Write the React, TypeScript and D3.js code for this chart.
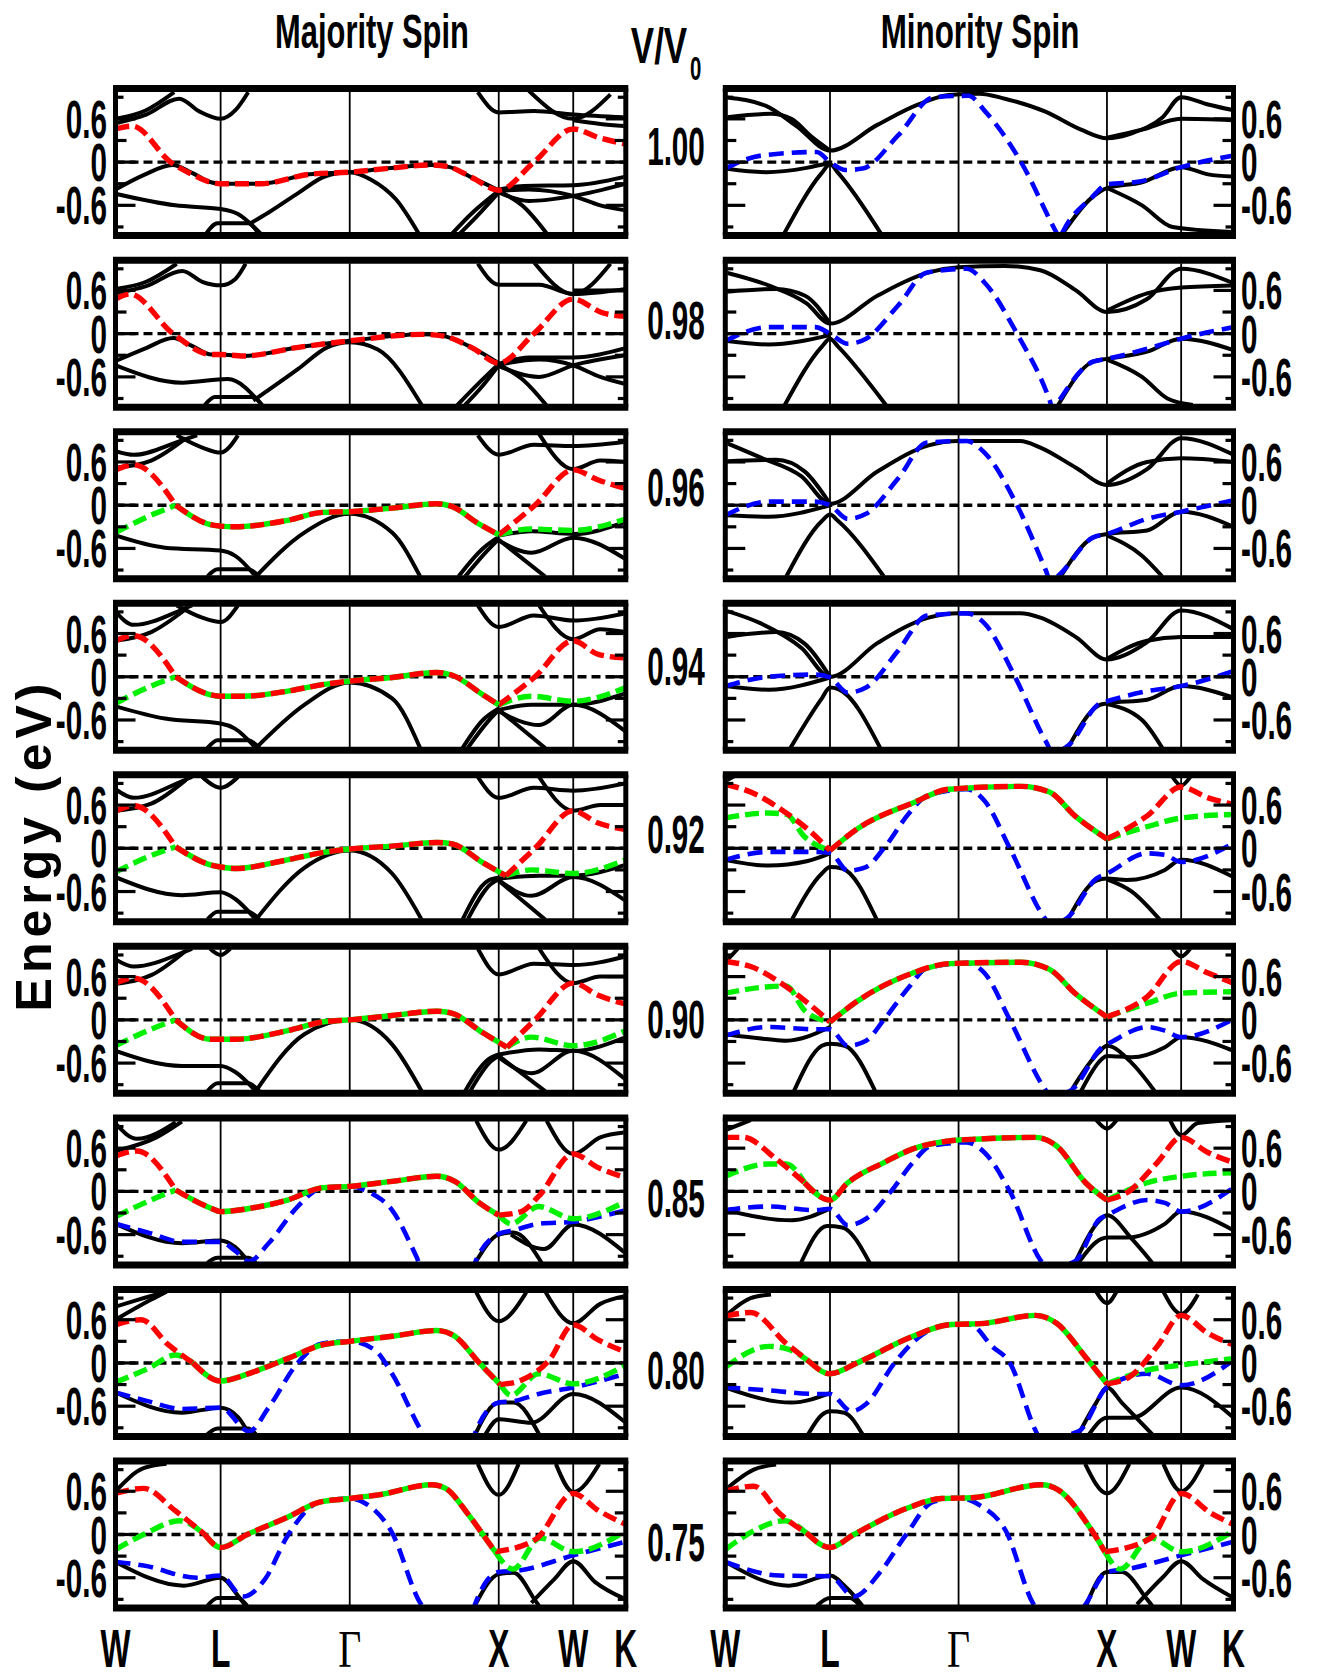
import React from "react";
import * as d3 from "d3";

type Pt = [number, number];
type Band = Pt[];

// high-symmetry points as fractions of the W-L-Γ-X-W-K path
const W0 = 0, L = 0.206, G = 0.459, X = 0.751, W1 = 0.897, K = 1;

const volumeLabels = ["1.00", "0.98", "0.96", "0.94", "0.92", "0.90", "0.85", "0.80", "0.75"];
const kPointLabels = ["W", "L", "Γ", "X", "W", "K"];
const kPointPositions = [W0, L, G, X, W1, K];
const energyTickValues = [0.6, 0, -0.6];
const energyTickLabels = ["0.6", "0", "-0.6"];
const energyMinorTicks = [-0.9, -0.6, -0.3, 0, 0.3, 0.6, 0.9];

/* ---------------- Majority spin ---------------- */
const maj100Black: Band[] = [
  [[0,0.54],[0.06,0.66],[0.125,0.88],[0.165,0.7],[L,0.6],[0.235,0.72],[0.26,0.97]],
  [[0,0.6],[0.06,0.72],[0.115,0.97]],
  [[0,-0.38],[0.055,-0.18],[0.112,-0.04],[0.15,-0.15],[0.187,-0.28],[L,-0.3],[0.284,-0.3],[0.38,-0.17],[G,-0.14],[0.53,-0.09],[0.62,-0.04],[0.655,-0.07],[0.7,-0.22],[X,-0.39]],
  [[0,-0.44],[0.117,-0.6],[L,-0.65],[0.24,-0.72],[0.284,-0.99]],
  [[0.178,-0.99],[0.2,-0.85],[0.26,-0.85],[0.28,-0.99]],
  [[0.262,-0.86],[0.3,-0.7],[0.36,-0.42],[0.41,-0.2],[G,-0.14],[0.5,-0.24],[0.55,-0.52],[0.594,-0.99]],
  [[0.66,-0.99],[0.7,-0.7],[X,-0.4]],
  [[0.675,-0.99],[0.715,-0.7],[X,-0.42]],
  [[X,-0.4],[0.8,-0.62],[0.845,-0.99]],
  [[X,-0.38],[0.8,-0.33],[W1,-0.32],[K,-0.2]],
  [[X,-0.4],[0.81,-0.38],[W1,-0.47],[0.95,-0.6],[K,-0.67]],
  [[X,-0.42],[0.81,-0.54],[W1,-0.47],[K,-0.3]],
  [[0.71,0.97],[X,0.69],[0.82,0.71],[W1,0.66],[K,0.62]],
  [[0.81,0.99],[W1,0.6],[0.97,0.94]],
  [[W1,0.58],[0.95,0.53],[K,0.5]],
];
const maj100Red: Band[] = [
  [[0,0.46],[0.033,0.5],[0.108,0.0],[0.15,-0.17],[0.187,-0.28],[L,-0.3],[0.284,-0.3],[0.38,-0.17],[G,-0.14],[0.53,-0.09],[0.62,-0.04],[0.655,-0.07],[0.7,-0.22],[X,-0.39],[0.82,0.0],[W1,0.46],[0.947,0.34],[K,0.25]],
];

const maj098Black: Band[] = [
  [[0,0.56],[0.06,0.66],[0.131,0.87],[0.17,0.72],[L,0.67],[0.235,0.76],[0.255,0.97]],
  [[0,0.62],[0.06,0.72],[0.12,0.97]],
  [[0,-0.38],[0.06,-0.2],[0.113,-0.06],[0.15,-0.17],[0.188,-0.29],[L,-0.29],[0.25,-0.31],[0.358,-0.19],[G,-0.1],[0.6,-0.01],[0.64,-0.03],[0.7,-0.2],[X,-0.41]],
  [[0,-0.44],[0.131,-0.68],[0.22,-0.63],[0.287,-0.99]],
  [[0.175,-0.99],[0.195,-0.88],[0.27,-0.88],[0.287,-0.99]],
  [[0.27,-0.93],[0.358,-0.49],[0.415,-0.19],[G,-0.12],[0.514,-0.22],[0.6,-0.99]],
  [[0.67,-0.99],[0.71,-0.7],[X,-0.42]],
  [[0.685,-0.99],[0.72,-0.72],[X,-0.44]],
  [[X,-0.43],[0.8,-0.65],[0.844,-0.99]],
  [[X,-0.42],[0.81,-0.33],[W1,-0.33],[K,-0.2]],
  [[X,-0.45],[0.83,-0.6],[W1,-0.44],[K,-0.3]],
  [[X,-0.43],[0.83,-0.36],[W1,-0.44],[0.95,-0.6],[K,-0.7]],
  [[0.71,0.97],[X,0.68],[0.83,0.68],[W1,0.55],[K,0.62]],
  [[0.82,0.99],[W1,0.55],[0.97,0.97]],
  [[W1,0.6],[K,0.6]],
];
const maj098Red: Band[] = [
  [[0,0.48],[0.028,0.55],[0.113,0.0],[0.188,-0.29],[L,-0.29],[0.25,-0.31],[0.358,-0.19],[G,-0.1],[0.6,-0.01],[0.64,-0.03],[0.7,-0.2],[X,-0.41],[0.82,0.0],[W1,0.48],[0.954,0.29],[K,0.24]],
];

const maj096Black: Band[] = [
  [[0,0.75],[0.036,0.7],[0.13,0.9],[0.16,0.97]],
  [[0,0.52],[0.07,0.62],[0.138,0.93]],
  [[0.12,0.97],[0.17,0.8],[L,0.73],[0.24,0.97]],
  [[0,-0.42],[0.097,-0.59],[L,-0.63],[0.234,-0.7],[0.275,-0.99]],
  [[0.18,-0.99],[0.2,-0.89],[0.26,-0.89],[0.282,-0.99]],
  [[0.275,-0.99],[0.37,-0.38],[G,-0.12],[0.542,-0.38],[0.597,-0.99]],
  [[0.672,-0.99],[0.72,-0.6],[X,-0.44]],
  [[0.685,-0.99],[0.73,-0.62],[X,-0.47]],
  [[X,-0.42],[0.815,-0.36],[W1,-0.4],[K,-0.23]],
  [[X,-0.49],[0.815,-0.66],[W1,-0.45],[K,-0.75]],
  [[X,-0.48],[0.842,-0.99]],
  [[0.71,0.97],[X,0.7],[0.82,0.84],[W1,0.82],[K,0.88]],
  [[0.83,0.99],[W1,0.5],[0.95,0.62],[K,0.6]],
];
const maj096Red: Band[] = [
  [[0,0.49],[0.036,0.56],[0.118,0]],
  [[X,-0.41],[0.822,0],[W1,0.49],[0.946,0.35],[K,0.23]],
];
const maj096Green: Band[] = [
  [[0,-0.38],[0.063,-0.16],[0.118,0]],
  [[X,-0.41],[0.815,-0.33],[W1,-0.35],[K,-0.19]],
];
const maj096RedGreen: Band[] = [
  [[0.118,0],[0.186,-0.27],[L,-0.29],[0.234,-0.3],[0.337,-0.21],[0.405,-0.1],[G,-0.09],[0.542,-0.04],[0.63,0.02],[0.66,-0.02],[0.71,-0.25],[X,-0.41]],
];

const maj094Black: Band[] = [
  [[0,0.9],[0.036,0.72],[0.13,0.93],[0.15,0.99]],
  [[0,0.5],[0.07,0.62],[0.138,0.94]],
  [[0.12,0.99],[0.17,0.82],[L,0.76],[0.24,0.99]],
  [[0,-0.41],[0.097,-0.58],[L,-0.65],[0.234,-0.72],[0.275,-0.99]],
  [[0.18,-0.99],[0.2,-0.88],[0.26,-0.88],[0.282,-0.99]],
  [[0.275,-0.99],[0.37,-0.39],[G,-0.08],[0.542,-0.3],[0.597,-0.99]],
  [[0.68,-0.99],[0.72,-0.6],[X,-0.44]],
  [[0.69,-0.99],[0.73,-0.62],[X,-0.46]],
  [[X,-0.46],[0.815,-0.39],[W1,-0.39],[K,-0.23]],
  [[X,-0.48],[0.83,-0.67],[W1,-0.39],[K,-0.76]],
  [[X,-0.46],[0.842,-0.99]],
  [[0.71,0.99],[X,0.69],[0.82,0.85],[W1,0.78],[K,0.88]],
  [[0.83,0.99],[W1,0.52],[0.95,0.66],[K,0.62]],
];
const maj094Red: Band[] = [
  [[0,0.5],[0.036,0.57],[0.118,0]],
  [[X,-0.39],[0.822,0],[W1,0.5],[0.946,0.31],[K,0.26]],
];
const maj094Green: Band[] = [
  [[0,-0.37],[0.063,-0.15],[0.118,0]],
  [[X,-0.39],[0.815,-0.27],[W1,-0.34],[K,-0.15]],
];
const maj094RedGreen: Band[] = [
  [[0.118,0],[0.186,-0.25],[L,-0.27],[0.25,-0.27],[0.337,-0.2],[0.405,-0.11],[G,-0.06],[0.542,-0.01],[0.63,0.06],[0.66,0.02],[0.72,-0.25],[X,-0.39]],
];

const maj092Black: Band[] = [
  [[0,0.82],[0.036,0.7],[0.13,0.93],[0.15,0.99]],
  [[0,0.52],[0.07,0.62],[0.138,0.95]],
  [[0.17,0.99],[L,0.84],[0.24,0.99]],
  [[0,-0.4],[0.13,-0.65],[L,-0.61],[0.234,-0.7],[0.275,-0.99]],
  [[0.18,-0.99],[0.2,-0.88],[0.26,-0.88],[0.282,-0.99]],
  [[0.275,-0.99],[0.37,-0.27],[G,-0.03],[0.542,-0.35],[0.6,-0.99]],
  [[0.68,-0.99],[0.73,-0.45],[X,-0.41]],
  [[0.69,-0.99],[0.735,-0.5],[X,-0.43]],
  [[X,-0.42],[0.83,-0.38],[W1,-0.38],[K,-0.23]],
  [[X,-0.44],[0.815,-0.66],[W1,-0.4],[K,-0.73]],
  [[X,-0.45],[0.842,-0.99]],
  [[0.71,0.99],[X,0.7],[0.82,0.84],[W1,0.8],[K,0.9]],
  [[0.83,0.99],[W1,0.52],[0.95,0.6],[K,0.6]],
];
const maj092Red: Band[] = [
  [[0,0.52],[0.036,0.59],[0.118,0.02]],
  [[0.765,-0.38],[0.822,0],[W1,0.52],[0.946,0.35],[K,0.26]],
];
const maj092Green: Band[] = [
  [[0,-0.33],[0.063,-0.12],[0.118,0.02]],
  [[0.765,-0.38],[0.815,-0.3],[W1,-0.35],[K,-0.16]],
];
const maj092RedGreen: Band[] = [
  [[0.118,0.02],[0.186,-0.23],[L,-0.26],[0.234,-0.28],[0.337,-0.16],[0.405,-0.06],[G,-0.01],[0.542,0.03],[0.63,0.08],[0.66,0.06],[0.72,-0.2],[0.765,-0.38]],
];

const maj090Black: Band[] = [
  [[0,0.84],[0.036,0.74],[0.13,0.93],[0.15,0.99]],
  [[0,0.5],[0.07,0.62],[0.138,0.96]],
  [[0.185,0.99],[L,0.9],[0.225,0.99]],
  [[0,-0.43],[0.13,-0.64],[L,-0.64],[0.234,-0.72],[0.275,-0.99]],
  [[0.18,-0.99],[0.2,-0.88],[0.26,-0.88],[0.282,-0.99]],
  [[0.275,-0.99],[0.37,-0.2],[G,0],[0.542,-0.34],[0.6,-0.99]],
  [[0.685,-0.99],[0.73,-0.55],[X,-0.48]],
  [[0.695,-0.99],[0.735,-0.58],[X,-0.5]],
  [[X,-0.48],[0.83,-0.41],[W1,-0.43],[K,-0.24]],
  [[X,-0.52],[0.815,-0.74],[W1,-0.43],[K,-0.83]],
  [[X,-0.5],[0.842,-0.99]],
  [[0.71,0.99],[X,0.63],[0.82,0.78],[W1,0.76],[K,0.88]],
  [[0.83,0.99],[W1,0.51],[0.95,0.6],[K,0.6]],
];
const maj090Red: Band[] = [
  [[0,0.51],[0.036,0.58],[0.118,0]],
  [[0.767,-0.38],[0.822,0],[W1,0.51],[0.946,0.34],[K,0.22]],
];
const maj090Green: Band[] = [
  [[0,-0.36],[0.063,-0.15],[0.118,0]],
  [[0.767,-0.38],[0.815,-0.24],[W1,-0.36],[K,-0.15]],
];
const maj090RedGreen: Band[] = [
  [[0.118,0],[0.186,-0.27],[L,-0.27],[0.234,-0.27],[0.337,-0.15],[0.405,-0.03],[G,0],[0.542,0.06],[0.63,0.12],[0.66,0.09],[0.72,-0.18],[0.767,-0.38]],
];

const maj085Black: Band[] = [
  [[0,0.94],[0.042,0.73],[0.118,0.96]],
  [[0,0.56],[0.08,0.75],[0.13,0.97]],
  [[0,-0.45],[0.13,-0.72],[L,-0.68],[0.234,-0.77],[0.262,-0.99]],
  [[0.18,-0.99],[0.2,-0.92],[0.26,-0.92],[0.275,-0.99]],
  [[0.705,-0.99],[X,-0.6],[0.78,-0.57],[0.835,-0.99]],
  [[0.775,-0.6],[0.84,-0.8],[W1,-0.46],[K,-0.86]],
  [[0.707,0.98],[X,0.58],[0.805,0.98]],
  [[0.845,0.98],[W1,0.52],[0.95,0.75],[K,0.82]],
];
const maj085Red: Band[] = [
  [[0,0.49],[0.042,0.56],[0.118,0.02]],
  [[X,-0.33],[0.795,-0.28],[0.829,-0.07],[W1,0.52],[0.946,0.33],[K,0.19]],
];
const maj085Green: Band[] = [
  [[0,-0.35],[0.063,-0.14],[0.118,0.02]],
  [[X,-0.33],[0.775,-0.45],[0.829,-0.21],[W1,-0.38],[K,-0.14]],
];
const maj085RedGreen: Band[] = [
  [[0.118,0.02],[0.186,-0.23],[L,-0.28],[0.268,-0.23],[0.337,-0.12],[0.405,0.05],[G,0.07],[0.542,0.14],[0.63,0.21],[0.665,0.14],[0.713,-0.16],[X,-0.33]],
];
const maj085Blue: Band[] = [
  [[0,-0.45],[0.063,-0.57],[0.131,-0.7],[L,-0.7],[0.234,-0.82],[0.262,-0.97],[0.3,-0.72],[0.357,-0.21],[0.405,0.05],[G,0.07],[0.5,-0.02],[0.542,-0.26],[0.59,-0.91],[0.6,-1.06],[0.7,-1.06],[0.706,-0.96],[X,-0.59],[0.78,-0.54],[0.829,-0.45],[W1,-0.42],[K,-0.26]],
];

const maj080Black: Band[] = [
  [[0,0.78],[0.07,0.93],[0.1,0.99]],
  [[0,0.6],[0.07,0.88],[0.1,0.99]],
  [[0,-0.41],[0.13,-0.69],[L,-0.62],[0.24,-0.75],[0.262,-0.99]],
  [[0.18,-0.99],[0.2,-0.91],[0.26,-0.91],[0.275,-0.99]],
  [[0.705,-0.99],[X,-0.55],[0.78,-0.55],[0.83,-0.99]],
  [[0.725,-0.99],[X,-0.78],[0.815,-0.83],[W1,-0.43],[K,-0.83]],
  [[0.707,0.98],[X,0.58],[0.805,0.98]],
  [[0.843,0.98],[W1,0.55],[0.95,0.82],[K,0.93]],
];
const maj080Red: Band[] = [
  [[0,0.53],[0.05,0.6],[0.104,0.25],[0.152,0]],
  [[0.754,-0.3],[0.795,-0.24],[0.85,0.04],[W1,0.53],[0.946,0.32],[K,0.15]],
];
const maj080Green: Band[] = [
  [[0,-0.27],[0.063,-0.08],[0.118,0.11],[0.152,0]],
  [[0.754,-0.3],[0.775,-0.45],[0.829,-0.15],[W1,-0.29],[K,-0.03]],
];
const maj080RedGreen: Band[] = [
  [[0.152,0],[L,-0.25],[0.268,-0.13],[0.337,0.06],[0.405,0.25],[G,0.3],[0.542,0.37],[0.63,0.45],[0.665,0.37],[0.713,0],[0.754,-0.3]],
];
const maj080Blue: Band[] = [
  [[0,-0.41],[0.063,-0.53],[0.131,-0.64],[L,-0.62],[0.262,-0.95],[0.3,-0.62],[0.357,0],[0.405,0.27],[G,0.3],[0.508,0.18],[0.542,-0.15],[0.6,-0.95],[0.61,-1.06],[0.7,-1.06],[0.706,-0.95],[X,-0.55],[0.78,-0.53],[0.829,-0.43],[W1,-0.34],[K,-0.15]],
];

const maj075Black: Band[] = [
  [[0,0.6],[0.055,0.92],[0.1,0.98]],
  [[0,-0.38],[0.134,-0.71],[L,-0.6],[0.24,-0.85],[0.255,-0.99]],
  [[0.18,-0.99],[0.2,-0.88],[0.24,-0.88],[0.258,-0.99]],
  [[0.704,-0.99],[X,-0.55],[0.78,-0.53],[0.823,-0.92],[0.83,-0.99]],
  [[0.815,-0.95],[0.86,-0.62],[W1,-0.37],[0.94,-0.66],[K,-0.9]],
  [[0.71,0.98],[X,0.55],[0.79,0.98]],
  [[0.863,0.98],[W1,0.59],[0.948,0.98]],
];
const maj075Red: Band[] = [
  [[0,0.57],[0.055,0.64],[0.117,0.33],[0.175,0]],
  [[0.744,-0.24],[0.823,-0.07],[W1,0.57],[0.947,0.33],[K,0.14]],
];
const maj075Green: Band[] = [
  [[0,-0.21],[0.055,0],[0.125,0.19],[0.175,0]],
  [[0.744,-0.24],[0.779,-0.48],[0.832,-0.05],[W1,-0.24],[K,0.05]],
];
const maj075RedGreen: Band[] = [
  [[0.175,0],[L,-0.18],[0.258,0],[0.337,0.24],[0.4,0.45],[G,0.5],[0.515,0.55],[0.62,0.69],[0.647,0.64],[0.69,0.29],[0.725,-0.05],[0.744,-0.24]],
];
const maj075Blue: Band[] = [
  [[0,-0.38],[0.055,-0.43],[0.16,-0.6],[L,-0.57],[0.25,-0.86],[0.293,-0.62],[0.337,-0.02],[0.4,0.45],[G,0.5],[0.497,0.4],[0.54,0.05],[0.6,-0.98],[0.61,-1.06],[0.7,-1.06],[0.704,-0.98],[X,-0.52],[0.79,-0.5],[W1,-0.29],[K,-0.1]],
];

/* ---------------- Minority spin ---------------- */
const min100Black: Band[] = [
  [[0,0.9],[0.08,0.78],[0.14,0.5],[L,0.16],[0.3,0.52],[0.38,0.8],[0.44,0.93],[0.5,0.95],[0.55,0.88],[0.63,0.7],[0.7,0.45],[X,0.33],[0.8,0.4],[0.86,0.62],[W1,0.9],[0.95,0.8],[K,0.72]],
  [[0,0.62],[0.09,0.67],[0.13,0.6],[0.17,0.35],[L,0.16]],
  [[X,0.34],[0.82,0.45],[W1,0.6],[K,0.58]],
  [[0,-0.09],[0.08,-0.14],[0.16,-0.08],[L,-0.01]],
  [[0.116,-0.99],[0.19,-0.15],[L,-0.03],[0.222,-0.15],[0.306,-0.99]],
  [[0.664,-0.99],[0.72,-0.5],[X,-0.36],[0.82,-0.28],[W1,-0.07],[0.95,-0.17],[K,-0.2]],
  [[X,-0.36],[0.82,-0.6],[0.88,-0.9],[K,-0.97]],
];
const min100Blue: Band[] = [
  [[0,-0.09],[0.07,0.09],[0.18,0.14],[L,0.0],[0.237,-0.11],[0.27,-0.09],[0.34,0.37],[0.41,0.9],[0.478,0.92],[0.513,0.69],[0.582,0],[0.651,-0.97],[0.658,-1.06],[0.664,-0.97],[0.72,-0.5],[X,-0.31],[0.815,-0.27],[W1,-0.07],[K,0.09]],
];

const min098Black: Band[] = [
  [[0,0.85],[0.085,0.67],[0.16,0.42],[L,0.14],[0.3,0.53],[0.4,0.85],[G,0.92],[0.55,0.94],[0.62,0.88],[0.69,0.6],[X,0.3],[0.83,0.48],[W1,0.9],[K,0.7]],
  [[0,0.58],[0.1,0.62],[0.156,0.53],[L,0.14]],
  [[X,0.32],[0.83,0.56],[W1,0.64],[K,0.67]],
  [[0,-0.1],[0.085,-0.15],[L,-0.02]],
  [[0.117,-0.99],[0.19,-0.18],[L,-0.07],[0.222,-0.18],[0.316,-0.99]],
  [[0.655,-0.99],[0.723,-0.39],[X,-0.35],[0.83,-0.25],[W1,-0.07],[K,-0.23]],
  [[X,-0.36],[0.82,-0.6],[0.87,-0.9],[0.92,-0.99]],
];
const min098Blue: Band[] = [
  [[0,-0.1],[0.085,0.09],[0.177,0.09],[L,0],[0.241,-0.14],[0.277,-0.07],[0.34,0.39],[0.397,0.85],[0.475,0.9],[0.51,0.71],[0.574,0],[0.638,-0.92],[0.645,-1.06],[0.655,-0.95],[0.723,-0.39],[X,-0.35],[0.83,-0.21],[W1,-0.07],[K,0.09]],
];

const min096Black: Band[] = [
  [[0,0.87],[0.07,0.66],[0.15,0.4],[L,0.02],[0.3,0.47],[0.4,0.83],[G,0.89],[0.58,0.89],[0.62,0.8],[0.69,0.52],[X,0.28],[0.83,0.5],[W1,0.93],[K,0.7]],
  [[0,0.61],[0.1,0.63],[0.156,0.47],[L,0.02]],
  [[X,0.3],[0.83,0.6],[W1,0.65],[K,0.6]],
  [[0,-0.14],[0.085,-0.16],[L,0]],
  [[0.12,-0.99],[0.19,-0.22],[L,-0.13],[0.222,-0.22],[0.312,-0.99]],
  [[0.66,-0.99],[0.723,-0.45],[X,-0.4],[0.83,-0.35],[W1,-0.09],[K,-0.3]],
  [[X,-0.42],[0.82,-0.7],[0.86,-0.99]],
];
const min096Blue: Band[] = [
  [[0,-0.14],[0.085,0.05],[0.177,0.05],[L,0],[0.241,-0.19],[0.277,-0.12],[0.34,0.37],[0.397,0.87],[0.475,0.89],[0.51,0.73],[0.574,0],[0.631,-0.91],[0.64,-1.06],[0.655,-0.98],[0.723,-0.45],[X,-0.4],[0.83,-0.19],[W1,-0.09],[K,0.07]],
];

const min094Black: Band[] = [
  [[0,0.92],[0.07,0.74],[0.15,0.4],[L,0],[0.3,0.47],[0.4,0.82],[G,0.88],[0.58,0.88],[0.62,0.82],[0.69,0.55],[X,0.24],[0.83,0.48],[W1,0.92],[K,0.66]],
  [[0,0.55],[0.1,0.62],[0.156,0.46],[L,0]],
  [[X,0.25],[0.83,0.5],[W1,0.55],[K,0.55]],
  [[0,-0.13],[0.085,-0.18],[L,-0.01]],
  [[0.128,-0.99],[0.19,-0.3],[L,-0.15],[0.222,-0.17],[0.305,-0.99]],
  [[0.674,-0.99],[0.737,-0.39],[X,-0.37],[0.83,-0.32],[W1,-0.13],[K,-0.29]],
  [[X,-0.38],[0.82,-0.6],[0.86,-0.99]],
];
const min094Blue: Band[] = [
  [[0,-0.13],[0.085,0],[0.177,0.03],[L,-0.01],[0.241,-0.22],[0.277,-0.15],[0.34,0.36],[0.397,0.85],[0.475,0.88],[0.51,0.74],[0.57,0],[0.631,-0.9],[0.645,-1.06],[0.674,-0.96],[0.737,-0.37],[X,-0.34],[0.83,-0.2],[W1,-0.13],[K,0.08]],
];

const min092Black: Band[] = [
  [[0,0.93],[0.03,1.05]],
  [[0,-0.16],[0.085,-0.24],[0.16,-0.18],[L,-0.07]],
  [[0.131,-0.99],[0.19,-0.35],[L,-0.26],[0.23,-0.28],[0.298,-0.99]],
  [[0.674,-0.99],[0.73,-0.45],[X,-0.42],[0.79,-0.44],[0.865,-0.3],[W1,-0.16],[K,-0.4]],
  [[X,-0.43],[0.8,-0.6],[0.855,-0.99]],
  [[0.88,0.99],[W1,0.87],[0.915,0.99]],
];
const min092Red: Band[] = [
  [[0,0.89],[0.05,0.78],[0.12,0.49],[0.163,0.26],[L,-0.03]],
  [[X,0.13],[0.83,0.45],[W1,0.85],[0.95,0.7],[K,0.61]],
];
const min092Green: Band[] = [
  [[0,0.42],[0.085,0.49],[0.12,0.47],[0.156,0.16],[L,-0.03]],
  [[X,0.13],[0.83,0.3],[W1,0.42],[K,0.47]],
];
const min092RedGreen: Band[] = [
  [[L,-0.03],[0.262,0.28],[0.369,0.63],[0.44,0.82],[0.582,0.86],[0.638,0.78],[0.688,0.45],[X,0.13]],
];
const min092Blue: Band[] = [
  [[0,-0.16],[0.085,-0.05],[0.177,-0.05],[L,-0.06],[0.241,-0.31],[0.277,-0.26],[0.312,0],[0.362,0.49],[0.397,0.73],[0.475,0.82],[0.51,0.66],[0.56,0],[0.631,-0.99],[0.64,-1.06],[0.674,-0.96],[0.73,-0.42],[X,-0.35],[0.83,-0.07],[0.865,-0.09],[W1,-0.19],[K,0.07]],
];

const min090Black: Band[] = [
  [[0,0.8],[0.025,0.99]],
  [[0,-0.2],[0.085,-0.27],[0.12,-0.29],[L,-0.1]],
  [[0.135,-0.99],[0.19,-0.36],[L,-0.33],[0.235,-0.36],[0.295,-0.99]],
  [[0.68,-0.99],[0.735,-0.45],[X,-0.36],[0.8,-0.6],[0.845,-0.99]],
  [[0.7,-0.99],[0.74,-0.55],[X,-0.5],[0.8,-0.52],[0.865,-0.38],[W1,-0.24],[K,-0.43]],
  [[0.88,0.99],[W1,0.88],[0.915,0.99]],
];
const min090Red: Band[] = [
  [[0,0.81],[0.05,0.74],[0.12,0.46],[0.163,0.23],[L,-0.03]],
  [[X,0.04],[0.83,0.32],[W1,0.81],[0.95,0.65],[K,0.51]],
];
const min090Green: Band[] = [
  [[0,0.37],[0.085,0.46],[0.12,0.47],[0.156,0.13],[L,-0.03]],
  [[X,0.04],[0.83,0.23],[W1,0.37],[K,0.39]],
];
const min090RedGreen: Band[] = [
  [[L,-0.03],[0.262,0.27],[0.369,0.65],[0.44,0.78],[0.582,0.8],[0.638,0.7],[0.688,0.37],[X,0.04]],
];
const min090Blue: Band[] = [
  [[0,-0.22],[0.085,-0.1],[0.177,-0.13],[L,-0.13],[0.241,-0.36],[0.277,-0.29],[0.312,0],[0.362,0.46],[0.397,0.72],[0.475,0.79],[0.51,0.65],[0.56,0],[0.628,-0.95],[0.64,-1.06],[0.68,-0.98],[0.745,-0.36],[X,-0.34],[0.83,-0.1],[0.865,-0.15],[W1,-0.24],[K,0.01]],
];

const min085Black: Band[] = [
  [[0,0.85],[0.05,0.99]],
  [[0,-0.26],[0.13,-0.4],[L,-0.24]],
  [[0.149,-0.99],[0.2,-0.48],[0.23,-0.5],[0.284,-0.99]],
  [[0.688,-0.99],[0.737,-0.4],[X,-0.33],[0.8,-0.66],[0.84,-0.99]],
  [[0.695,-0.99],[0.74,-0.66],[X,-0.64],[0.79,-0.64],[0.865,-0.45],[W1,-0.28],[K,-0.54]],
  [[0.73,0.99],[X,0.87],[0.77,0.99]],
  [[0.875,0.99],[W1,0.78],[0.93,0.95],[K,0.99]],
];
const min085Red: Band[] = [
  [[0,0.75],[0.035,0.75],[0.1,0.45],[0.156,0.12]],
  [[X,-0.12],[0.794,0],[0.85,0.4],[W1,0.75],[0.95,0.54],[K,0.4]],
];
const min085Green: Band[] = [
  [[0,0.21],[0.085,0.38],[0.12,0.38],[0.156,0.12]],
  [[X,-0.12],[0.83,0.12],[W1,0.21],[K,0.26]],
];
const min085RedGreen: Band[] = [
  [[0.156,0.12],[L,-0.12],[0.241,0.12],[0.312,0.4],[0.369,0.59],[0.44,0.7],[0.51,0.73],[0.61,0.75],[0.652,0.63],[0.709,0.12],[X,-0.12]],
];
const min085Blue: Band[] = [
  [[0,-0.26],[0.085,-0.21],[0.177,-0.26],[L,-0.24],[0.241,-0.47],[0.277,-0.38],[0.326,0],[0.369,0.4],[0.404,0.63],[0.475,0.68],[0.51,0.54],[0.56,0],[0.624,-0.99],[0.635,-1.06],[0.688,-0.97],[0.737,-0.38],[X,-0.33],[0.83,-0.12],[0.865,-0.16],[W1,-0.28],[K,0.05]],
];

const min080Black: Band[] = [
  [[0,0.65],[0.05,0.9],[0.09,0.95]],
  [[0,-0.34],[0.13,-0.55],[L,-0.42]],
  [[0.163,-0.99],[0.19,-0.72],[L,-0.67],[0.234,-0.69],[0.27,-0.99]],
  [[0.695,-0.99],[0.73,-0.55],[X,-0.34],[0.78,-0.55],[0.84,-0.99]],
  [[0.716,-0.99],[X,-0.76],[0.8,-0.76],[W1,-0.34],[K,-0.76]],
  [[0.73,0.99],[X,0.83],[0.77,0.99]],
  [[0.862,0.99],[W1,0.68],[0.93,0.95]],
];
const min080Red: Band[] = [
  [[0,0.65],[0.05,0.7],[0.12,0.27],[0.165,0.02]],
  [[X,-0.29],[0.794,-0.2],[0.85,0.23],[W1,0.66],[0.95,0.41],[K,0.25]],
];
const min080Green: Band[] = [
  [[0,-0.06],[0.085,0.23],[0.12,0.2],[0.165,0.02]],
  [[X,-0.29],[0.83,-0.1],[W1,-0.03],[K,0.06]],
];
const min080RedGreen: Band[] = [
  [[0.165,0.02],[L,-0.15],[0.262,0.01],[0.369,0.37],[0.44,0.53],[0.51,0.55],[0.61,0.66],[0.652,0.55],[0.709,0.08],[X,-0.29]],
];
const min080Blue: Band[] = [
  [[0,-0.34],[0.085,-0.38],[0.177,-0.43],[L,-0.43],[0.248,-0.67],[0.277,-0.57],[0.333,0],[0.383,0.37],[0.44,0.53],[0.482,0.53],[0.525,0.23],[0.56,0],[0.61,-0.93],[0.62,-1.06],[0.695,-0.95],[X,-0.34],[0.83,-0.15],[W1,-0.31],[K,0.04]],
];

const min075Black: Band[] = [
  [[0,0.62],[0.056,0.9],[0.1,0.97]],
  [[0,-0.38],[0.125,-0.71],[L,-0.57],[0.24,-0.75],[0.27,-0.99]],
  [[0.18,-0.99],[L,-0.88],[0.245,-0.88],[0.265,-0.99]],
  [[0.71,-0.99],[X,-0.52],[0.78,-0.52],[0.83,-0.9],[0.84,-0.99]],
  [[0.81,-0.97],[0.86,-0.6],[W1,-0.37],[0.94,-0.62],[K,-0.88]],
  [[0.708,0.98],[X,0.57],[0.795,0.98]],
  [[0.862,0.98],[W1,0.6],[0.94,0.98]],
];
const min075Red: Band[] = [
  [[0,0.6],[0.056,0.67],[0.107,0.29],[0.16,0.02]],
  [[0.747,-0.24],[0.837,-0.05],[W1,0.57],[0.957,0.29],[K,0.14]],
];
const min075Green: Band[] = [
  [[0,-0.21],[0.056,0.05],[0.116,0.19],[0.16,0.02]],
  [[0.747,-0.24],[0.777,-0.48],[0.837,-0.05],[W1,-0.24],[K,0.05]],
];
const min075RedGreen: Band[] = [
  [[0.16,0.02],[L,-0.18],[0.253,0],[0.356,0.36],[0.425,0.5],[0.485,0.51],[0.622,0.69],[0.655,0.62],[0.717,0.1],[0.747,-0.24]],
];
const min075Blue: Band[] = [
  [[0,-0.38],[0.107,-0.57],[L,-0.58],[0.253,-0.86],[0.305,-0.52],[0.356,0],[0.408,0.45],[0.46,0.51],[0.502,0.4],[0.552,0.05],[0.605,-0.95],[0.615,-1.06],[0.7,-1.06],[0.708,-0.98],[X,-0.52],[0.79,-0.48],[W1,-0.29],[K,-0.1]],
];

type PanelData = { black: Band[]; red: Band[]; green: Band[]; redGreen: Band[]; blue: Band[] };
const none: Band[] = [];

const majorityPanels: PanelData[] = [
  { black: maj100Black, red: maj100Red, green: none, redGreen: none, blue: none },
  { black: maj098Black, red: maj098Red, green: none, redGreen: none, blue: none },
  { black: maj096Black, red: maj096Red, green: maj096Green, redGreen: maj096RedGreen, blue: none },
  { black: maj094Black, red: maj094Red, green: maj094Green, redGreen: maj094RedGreen, blue: none },
  { black: maj092Black, red: maj092Red, green: maj092Green, redGreen: maj092RedGreen, blue: none },
  { black: maj090Black, red: maj090Red, green: maj090Green, redGreen: maj090RedGreen, blue: none },
  { black: maj085Black, red: maj085Red, green: maj085Green, redGreen: maj085RedGreen, blue: maj085Blue },
  { black: maj080Black, red: maj080Red, green: maj080Green, redGreen: maj080RedGreen, blue: maj080Blue },
  { black: maj075Black, red: maj075Red, green: maj075Green, redGreen: maj075RedGreen, blue: maj075Blue },
];
const minorityPanels: PanelData[] = [
  { black: min100Black, red: none, green: none, redGreen: none, blue: min100Blue },
  { black: min098Black, red: none, green: none, redGreen: none, blue: min098Blue },
  { black: min096Black, red: none, green: none, redGreen: none, blue: min096Blue },
  { black: min094Black, red: none, green: none, redGreen: none, blue: min094Blue },
  { black: min092Black, red: min092Red, green: min092Green, redGreen: min092RedGreen, blue: min092Blue },
  { black: min090Black, red: min090Red, green: min090Green, redGreen: min090RedGreen, blue: min090Blue },
  { black: min085Black, red: min085Red, green: min085Green, redGreen: min085RedGreen, blue: min085Blue },
  { black: min080Black, red: min080Red, green: min080Green, redGreen: min080RedGreen, blue: min080Blue },
  { black: min075Black, red: min075Red, green: min075Green, redGreen: min075RedGreen, blue: min075Blue },
];

/* ---------------- layout ---------------- */
const E_MAX = 1.02;
const LEFT_X: [number, number] = [115.5, 625.8];
const RIGHT_X: [number, number] = [725.3, 1233.5];
const TOP0 = 88.6;
const ROW_STEP = 171.55;
const PANEL_H = 147;
const VOL_LABEL_DY = [-16, -14, -18, -11, -14, -1, 7, 7, 7];
const SANS = "'Liberation Sans', Arial, Helvetica, sans-serif";
const SERIF = "'Liberation Serif', 'Times New Roman', serif";
const RED = "#ff0000", GREEN = "#00f000", BLUE = "#0000ff";

function STxt(props: { x: number; y: number; sx: number; sy?: number; size: number; anchor?: string; family?: string; weight?: string | number; children: React.ReactNode; ls?: number; rotate?: number }) {
  const { x, y, sx, sy = 1, size, anchor = "middle", family = SANS, weight = "bold", children, ls, rotate } = props;
  return (
    <text
      transform={`translate(${x},${y})${rotate ? ` rotate(${rotate})` : ""} scale(${sx},${sy})`}
      textAnchor={anchor}
      fontSize={size}
      fontFamily={family}
      fontWeight={weight as any}
      letterSpacing={ls}
      fill="#000"
    >
      {children}
    </text>
  );
}

function Panel({ xr, top, data, id }: { xr: [number, number]; top: number; data: PanelData; id: string }) {
  const [x0, x1] = xr;
  const xs = d3.scaleLinear().domain([0, 1]).range([x0, x1]);
  const ys = d3.scaleLinear().domain([-E_MAX, E_MAX]).range([top + PANEL_H, top]);
  const line = d3.line<Pt>().x((d) => xs(d[0])).y((d) => ys(d[1])).curve(d3.curveMonotoneX);
  const tickLen = (v: number) => (Math.abs(v) > 0.85 ? 8 : Math.abs(Math.abs(v) - 0.3) < 0.01 ? 11 : 20);
  const y0 = top, y1 = top + PANEL_H;
  return (
    <g>
      <defs>
        <clipPath id={id}>
          <rect x={x0 + 2} y={top + 3} width={x1 - x0 - 4} height={PANEL_H - 6} />
        </clipPath>
      </defs>
      <g clipPath={`url(#${id})`}>
        {[L, G, X, W1].map((k, i) => (
          <line key={i} x1={xs(k)} x2={xs(k)} y1={top} y2={top + PANEL_H} stroke="#000" strokeWidth={1.8} />
        ))}
        <line x1={x0} x2={x1} y1={ys(0)} y2={ys(0)} stroke="#000" strokeWidth={3.4} strokeDasharray="9,5" />
        {data.black.map((b, i) => (
          <path key={"k" + i} d={line(b) || ""} fill="none" stroke="#000" strokeWidth={4} strokeLinejoin="round" />
        ))}
        {data.blue.map((b, i) => (
          <path key={"b" + i} d={line(b) || ""} fill="none" stroke={BLUE} strokeWidth={4.6} strokeDasharray="15,8" />
        ))}
        {data.green.map((b, i) => (
          <path key={"g" + i} d={line(b) || ""} fill="none" stroke={GREEN} strokeWidth={5.4} strokeDasharray="14,6" />
        ))}
        {data.red.map((b, i) => (
          <path key={"r" + i} d={line(b) || ""} fill="none" stroke={RED} strokeWidth={5.4} strokeDasharray="14,6" />
        ))}
        {data.redGreen.map((b, i) => (
          <g key={"rg" + i}>
            <path d={line(b) || ""} fill="none" stroke={GREEN} strokeWidth={5.4} />
            <path d={line(b) || ""} fill="none" stroke={RED} strokeWidth={5.4} strokeDasharray="14,6" />
          </g>
        ))}
      </g>
      {energyMinorTicks.map((v, i) => (
        <g key={"t" + i}>
          <line x1={x0} x2={x0 + tickLen(v)} y1={ys(v)} y2={ys(v)} stroke="#000" strokeWidth={3.2} />
          <line x1={x1 - tickLen(v)} x2={x1} y1={ys(v)} y2={ys(v)} stroke="#000" strokeWidth={3.2} />
        </g>
      ))}
      <line x1={x0} x2={x0} y1={y0} y2={y1} stroke="#000" strokeWidth={5} />
      <line x1={x1} x2={x1} y1={y0} y2={y1} stroke="#000" strokeWidth={5} />
      <line x1={x0 - 2.5} x2={x1 + 2.5} y1={y0} y2={y0} stroke="#000" strokeWidth={7} />
      <line x1={x0 - 2.5} x2={x1 + 2.5} y1={y1} y2={y1} stroke="#000" strokeWidth={7} />
    </g>
  );
}

export default function App() {
  const rows = volumeLabels.map((_, r) => TOP0 + r * ROW_STEP);
  const ysFor = (top: number) => d3.scaleLinear().domain([-E_MAX, E_MAX]).range([top + PANEL_H, top]);
  const xsLeft = d3.scaleLinear().domain([0, 1]).range(LEFT_X);
  const xsRight = d3.scaleLinear().domain([0, 1]).range(RIGHT_X);
  const bottomBase = 1667;
  return (
    <svg width={1318} height={1677} style={{ position: "absolute", left: 0, top: 0, background: "#fff" }}>
      <rect x={0} y={0} width={1318} height={1677} fill="#fff" />
      <STxt x={372} y={48} sx={0.63} size={49}>Majority Spin</STxt>
      <STxt x={980} y={48} sx={0.64} size={49}>Minority Spin</STxt>
      <STxt x={659} y={63} sx={0.7} size={50}>V/V</STxt>
      <STxt x={690} y={80} sx={0.6} size={34} anchor="start">0</STxt>
      <STxt x={51} y={845} sx={1} size={50} rotate={-90} ls={5}>Energy (eV)</STxt>

      {rows.map((top, r) => {
        const ys = ysFor(top);
        return (
          <g key={r}>
            <Panel xr={LEFT_X} top={top} data={majorityPanels[r]} id={`clipL${r}`} />
            <Panel xr={RIGHT_X} top={top} data={minorityPanels[r]} id={`clipR${r}`} />
            {energyTickValues.map((v, i) => (
              <g key={i}>
                <STxt x={107} y={ys(v) + 19} sx={0.56} size={53} anchor="end">{energyTickLabels[i]}</STxt>
                <STxt x={1241} y={ys(v) + 19} sx={0.56} size={53} anchor="start">{energyTickLabels[i]}</STxt>
              </g>
            ))}
            <STxt x={676} y={ys(0) + VOL_LABEL_DY[r] + 19} sx={0.56} size={53}>{volumeLabels[r]}</STxt>
          </g>
        );
      })}

      {kPointLabels.map((lab, i) => {
        const isGamma = lab === "Γ";
        return (
          <g key={i}>
            <STxt x={xsLeft(kPointPositions[i])} y={bottomBase} sx={isGamma ? 0.75 : 0.6} size={53} family={isGamma ? SERIF : SANS} weight={isGamma ? "normal" : "bold"}>{lab}</STxt>
            <STxt x={xsRight(kPointPositions[i])} y={bottomBase} sx={isGamma ? 0.75 : 0.6} size={53} family={isGamma ? SERIF : SANS} weight={isGamma ? "normal" : "bold"}>{lab}</STxt>
          </g>
        );
      })}
    </svg>
  );
}
